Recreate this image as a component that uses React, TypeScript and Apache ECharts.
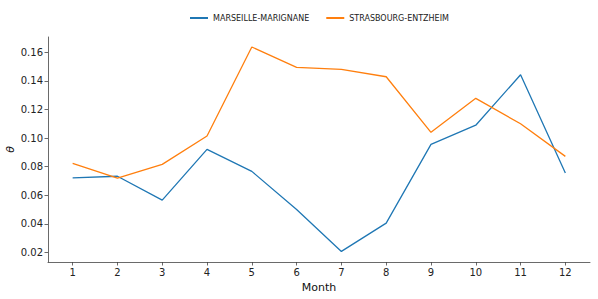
import React, { useEffect, useRef } from "react";
import * as echarts from "echarts";

const months = [1, 2, 3, 4, 5, 6, 7, 8, 9, 10, 11, 12];
const marseille = [0.0722, 0.0733, 0.0566, 0.0921, 0.0767, 0.0500, 0.0207, 0.0405, 0.0956, 0.109, 0.1443, 0.0755];
const strasbourg = [0.0823, 0.072, 0.0816, 0.1014, 0.1637, 0.1495, 0.148, 0.1429, 0.104, 0.1278, 0.11, 0.0872];
const yTicks = [0.02, 0.04, 0.06, 0.08, 0.1, 0.12, 0.14, 0.16];
const seriesNames = ["MARSEILLE-MARIGNANE", "STRASBOURG-ENTZHEIM"];

export default function App() {
  const ref = useRef<HTMLDivElement>(null);
  useEffect(() => {
    if (!ref.current) return;
    const chart = echarts.init(ref.current, null, { renderer: "svg" });
    const font = "DejaVu Sans";
    const axisColor = "#444";
    chart.setOption({
      animation: false,
      textStyle: { fontFamily: font },
      legend: {
        top: 9,
        left: 185,
        itemWidth: 18,
        itemHeight: 2,
        itemGap: 17,
        icon: "rect",
        textStyle: { fontSize: 8, color: "#222", fontFamily: font },
        data: seriesNames,
      },
      grid: { left: 48, right: 8, top: 37, bottom: 37, containLabel: false, outerBoundsMode: "none" },
      xAxis: {
        type: "value",
        min: 0.45,
        max: 12.55,
        name: "Month",
        nameLocation: "middle",
        nameGap: 20,
        nameMoveOverlap: false,
        nameTextStyle: { fontSize: 11, color: "#111", fontFamily: font },
        splitLine: { show: false },
        axisLine: { show: true, lineStyle: { color: axisColor, width: 0.8 } },
        axisTick: { show: true, length: 3.5, lineStyle: { color: axisColor, width: 0.8 }, customValues: months },
        axisLabel: { fontSize: 10, color: "#222", margin: 5, customValues: months, fontFamily: font },
      },
      yAxis: {
        type: "value",
        min: 0.0133,
        max: 0.1707,
        name: "θ",
        nameLocation: "middle",
        nameGap: 32,
        nameRotate: 90,
        nameMoveOverlap: false,
        nameTextStyle: { fontSize: 11, color: "#111", fontStyle: "italic", fontFamily: font },
        splitLine: { show: false },
        axisLine: { show: true, lineStyle: { color: axisColor, width: 0.8 } },
        axisTick: { show: true, length: 3.5, lineStyle: { color: axisColor, width: 0.8 }, customValues: yTicks },
        axisLabel: {
          fontSize: 10,
          color: "#222",
          margin: 5,
          customValues: yTicks,
          fontFamily: font,
          formatter: (v: number) => v.toFixed(2),
        },
      },
      series: [
        {
          name: seriesNames[0],
          type: "line",
          data: months.map((m, i) => [m, marseille[i]]),
          showSymbol: false,
          lineStyle: { color: "#1f77b4", width: 1.3 },
          itemStyle: { color: "#1f77b4" },
        },
        {
          name: seriesNames[1],
          type: "line",
          data: months.map((m, i) => [m, strasbourg[i]]),
          showSymbol: false,
          lineStyle: { color: "#ff7f0e", width: 1.3 },
          itemStyle: { color: "#ff7f0e" },
        },
      ],
    });
    return () => chart.dispose();
  }, []);
  return <div ref={ref} style={{ width: 598, height: 299, position: "absolute", left: 0, top: 0 }} />;
}
